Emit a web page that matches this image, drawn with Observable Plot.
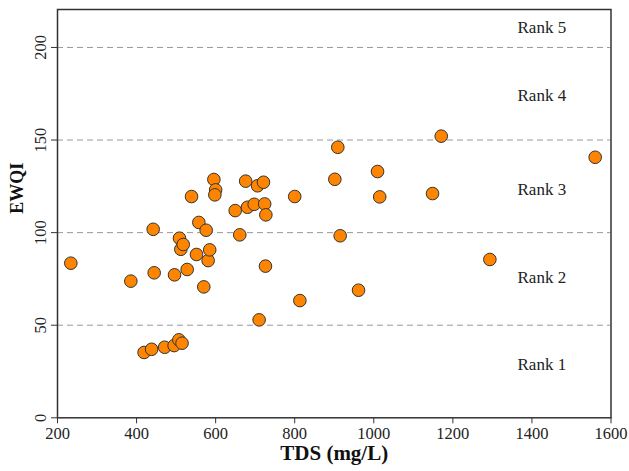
<!DOCTYPE html>
<html>
<head>
<meta charset="utf-8">
<script src="https://cdn.jsdelivr.net/npm/d3@7"></script>
<script src="https://cdn.jsdelivr.net/npm/@observablehq/plot@0.6"></script>
<style>
  html, body { margin: 0; padding: 0; background: #fff; }
  #chart svg { display: block; }
</style>
</head>
<body>
<div id="chart"></div>
<script>
const tds = [233.7, 385.5, 419, 438, 442, 444.5, 471, 495, 496, 507, 508.5, 512, 515, 518, 528, 539, 551.6, 557.5, 570, 576, 581, 585, 595.5, 600, 598, 649.5, 661, 676, 680.6, 697.5, 706, 710, 721, 724, 726, 727, 800, 813, 901.5, 909, 915, 961.4, 1009.5, 1015, 1148.6, 1170.6, 1293.6, 1560];
const ewqi = [83.5, 73.8, 35.3, 37.0, 101.8, 78.3, 38.1, 39.0, 77.2, 42.1, 97.0, 91.0, 40.3, 93.6, 80.1, 119.5, 88.2, 105.5, 70.7, 101.3, 84.9, 90.7, 128.7, 123.1, 120.4, 111.9, 98.8, 127.8, 113.7, 115.3, 125.3, 52.9, 127.2, 115.5, 81.9, 109.6, 119.5, 63.3, 128.8, 146.1, 98.3, 68.9, 133.0, 119.3, 121.1, 152.1, 85.5, 140.7];
const xTicks = [200, 400, 600, 800, 1000, 1200, 1400, 1600];
const yTicks = [0, 50, 100, 150, 200];
const rankThresholds = [50, 100, 150, 200];
const rankLabels = ["Rank 1", "Rank 2", "Rank 3", "Rank 4", "Rank 5"];
const rankLabelY = [28.7, 75.6, 123.4, 174, 210.9];
const rankLabelX = 1425;

const points = tds.map((t, i) => ({tds: t, ewqi: ewqi[i]}));
const ranks = rankLabels.map((r, i) => ({label: r, y: rankLabelY[i]}));

const font = "'Liberation Serif', 'Times New Roman', serif";

const chart = Plot.plot({
  width: 629,
  height: 471,
  marginLeft: 57,
  marginRight: 18.5,
  marginTop: 9,
  marginBottom: 53.7,
  style: {fontFamily: font, background: "#fff", color: "#222"},
  x: {domain: [200, 1600]},
  y: {domain: [0, 220.5]},
  marks: [
    Plot.ruleY(rankThresholds, {stroke: "#999", strokeWidth: 1, strokeDasharray: "6,4"}),
    Plot.axisX({ticks: xTicks, tickFormat: d => String(d), tickSize: 6, tickPadding: 3, fontSize: 16.5, label: null, stroke: "#333"}),
    Plot.axisY({ticks: yTicks, tickFormat: d => String(d), tickSize: 6, tickPadding: 6, tickRotate: -90, fontSize: 16.5, label: null, stroke: "#333"}),
    Plot.frame({stroke: "#333", strokeWidth: 1.5}),
    Plot.text(ranks, {x: () => rankLabelX, y: "y", text: "label", fontSize: 17, fill: "#222"}),
    Plot.dot(points, {x: "tds", y: "ewqi", r: 6.3, fill: "#ff8500", stroke: "#333", strokeWidth: 1, fillOpacity: 1}),
    Plot.text(["TDS (mg/L)"], {frameAnchor: "bottom", dy: 42, fontSize: 21, fontWeight: "bold", fill: "#111"}),
    Plot.text(["EWQI"], {frameAnchor: "left", dx: -40, rotate: -90, fontSize: 18, fontWeight: "bold", fill: "#111"})
  ]
});
document.getElementById("chart").appendChild(chart);
</script>
</body>
</html>
